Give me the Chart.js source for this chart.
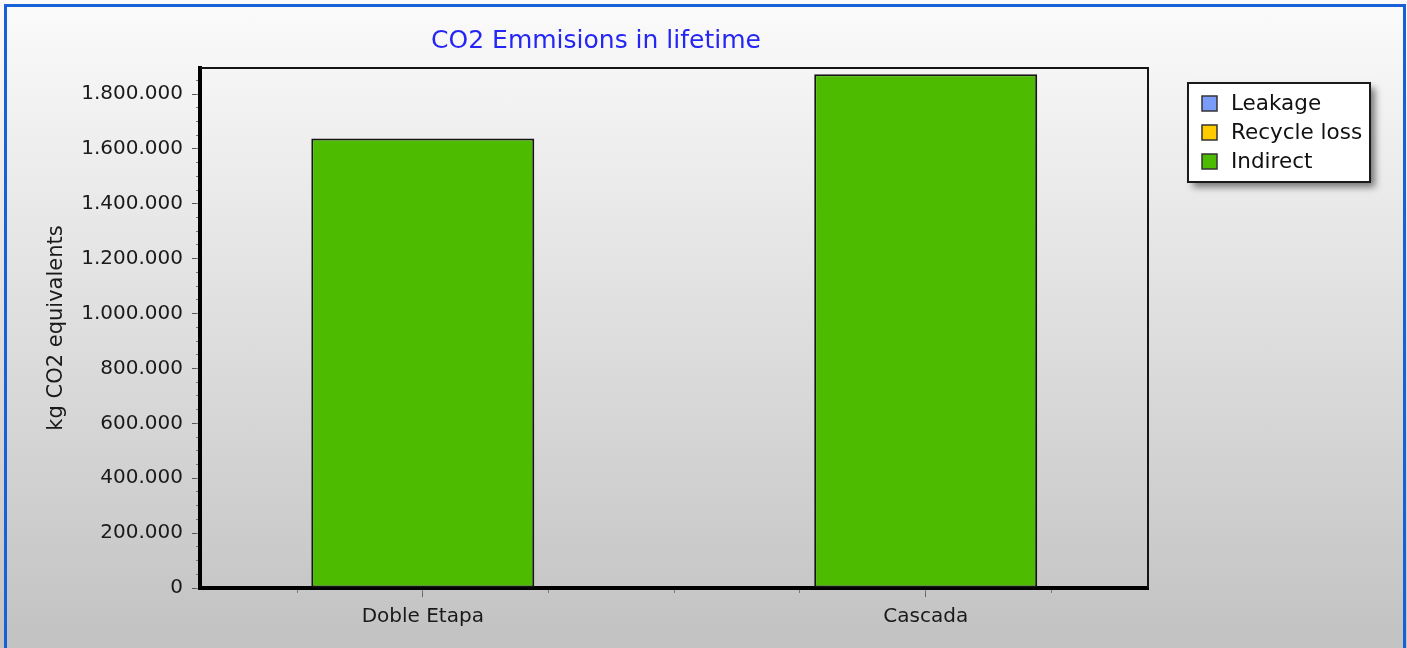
<!DOCTYPE html>
<html lang="en">
<head>
<meta charset="UTF-8">
<title>CO2 Emmisions in lifetime</title>
<script src="https://cdn.jsdelivr.net/npm/chart.js@4"></script>
<style>
    html, body { margin: 0; padding: 0; overflow: hidden; }
    #wrap { position: relative; width: 1407px; height: 648px; background: linear-gradient(#fbfbfb, #c2c2c2); }
    #frame { position: absolute; left: 4px; top: 4px; width: 1402px; height: 700px; border: 3px solid #1760d8; box-sizing: border-box; pointer-events: none; }
    canvas { position: absolute; left: 0; top: 0; }
</style>
</head>
<body>
<div id="wrap">
    <canvas id="co2Chart" width="1407" height="648"></canvas>
    <div id="frame"></div>
</div>
<script>
    // values
    const categories = ['Doble Etapa', 'Cascada'];
    const leakage = [0, 0];
    const recycleLoss = [0, 0];
    const indirect = [1638000, 1872000];

    // axis range and tick marks
    const yMax = 1895000;
    const yTicks = [0, 200000, 400000, 600000, 800000, 1000000, 1200000, 1400000, 1600000, 1800000];
    const yMinorStep = 50000;
    const xRange = [-0.443, 1.442];
    const xMinorTicks = [-0.25, 0, 0.25, 0.5, 0.75, 1, 1.25];

    const seriesColors = { leakage: '#789cf8', recycle: '#ffcc00', indirect: '#4dbb00' };

    Chart.defaults.font.family = 'DejaVu Sans';
    Chart.defaults.color = '#1a1a1a';

    // 1800000 -> 1.800.000
    function dotted(v) {
        return String(Math.round(v)).replace(/\B(?=(\d{3})+(?!\d))/g, '.');
    }

    const toPoints = values => values.map((v, i) => ({ x: i, y: v }));
    const setTicks = values => scale => { scale.ticks = values.map(v => ({ value: v })); };

    const yMinorTicks = [];
    for (let v = 0; v < yMax; v += yMinorStep) yMinorTicks.push(v);

    // thin top and right edge of the plot box
    const plotFrame = {
        id: 'plotFrame',
        afterDraw(chart) {
            const { ctx, chartArea: a } = chart;
            ctx.save();
            ctx.strokeStyle = '#151515';
            ctx.lineWidth = 2;
            ctx.beginPath();
            ctx.moveTo(a.left, a.top);
            ctx.lineTo(a.right, a.top);
            ctx.lineTo(a.right, a.bottom);
            ctx.stroke();
            ctx.restore();
        }
    };

    // boxed legend with a drop shadow, right of the plot
    const boxLegend = {
        id: 'boxLegend',
        afterDraw(chart) {
            const { ctx, chartArea: a } = chart;
            const x = a.right + 40, y = a.top + 15, w = 182, h = 99;
            ctx.save();
            ctx.shadowColor = 'rgba(0,0,0,0.5)';
            ctx.shadowBlur = 7;
            ctx.shadowOffsetX = 5;
            ctx.shadowOffsetY = 5;
            ctx.fillStyle = '#ffffff';
            ctx.fillRect(x, y, w, h);
            ctx.restore();

            ctx.save();
            ctx.strokeStyle = '#1a1a1a';
            ctx.lineWidth = 2;
            ctx.strokeRect(x, y, w, h);
            ctx.font = '21.5px "DejaVu Sans"';
            ctx.textBaseline = 'middle';
            chart.data.datasets.forEach((ds, i) => {
                const cy = y + 20 + i * 29;
                ctx.fillStyle = ds.backgroundColor;
                ctx.fillRect(x + 14, cy - 7, 15, 15);
                ctx.strokeStyle = '#333';
                ctx.lineWidth = 1.5;
                ctx.strokeRect(x + 14, cy - 7, 15, 15);
                ctx.fillStyle = '#111';
                ctx.fillText(ds.label, x + 43, cy + 1);
            });
            ctx.restore();
        }
    };

    const barStyle = { borderColor: '#151515', borderWidth: 2, borderSkipped: false, barPercentage: 0.4434, categoryPercentage: 1 };

    new Chart(document.getElementById('co2Chart'), {
        type: 'bar',
        data: {
            datasets: [
                { label: 'Leakage', data: toPoints(leakage), backgroundColor: seriesColors.leakage, ...barStyle, borderWidth: 0 },
                { label: 'Recycle loss', data: toPoints(recycleLoss), backgroundColor: seriesColors.recycle, ...barStyle, borderWidth: 0 },
                { label: 'Indirect', data: toPoints(indirect), backgroundColor: seriesColors.indirect, ...barStyle }
            ]
        },
        options: {
            responsive: false,
            animation: false,
            devicePixelRatio: 1,
            layout: { padding: { left: 44, right: 259, top: 0, bottom: 0 } },
            plugins: {
                legend: { display: false },
                tooltip: { enabled: false },
                title: {
                    display: true,
                    text: 'CO2 Emmisions in lifetime',
                    color: '#2626f4',
                    font: { size: 25, weight: 'normal' },
                    padding: { top: 26, bottom: 12 }
                }
            },
            scales: {
                x: {
                    type: 'linear',
                    stacked: true,
                    offset: false,
                    min: xRange[0],
                    max: xRange[1],
                    z: 1,
                    weight: 1,
                    afterBuildTicks: setTicks(categories.map((c, i) => i)),
                    afterFit(scale) { scale.height = 60; },
                    border: { display: true, color: '#000', width: 4 },
                    grid: { offset: false, drawOnChartArea: false, tickLength: 9, tickColor: '#666', tickWidth: 1 },
                    ticks: {
                        autoSkip: false,
                        maxRotation: 0,
                        padding: 8,
                        font: { size: 20 },
                        callback: v => categories[Math.round(v)] ?? ''
                    }
                },
                xMinor: {
                    type: 'linear',
                    position: 'bottom',
                    offset: false,
                    min: xRange[0],
                    max: xRange[1],
                    weight: 0,
                    afterBuildTicks: setTicks(xMinorTicks),
                    afterFit(scale) { scale.height = 0; },
                    border: { display: false },
                    grid: { offset: false, drawOnChartArea: false, tickLength: 5, tickColor: '#777' },
                    ticks: { display: false, autoSkip: false }
                },
                y: {
                    stacked: true,
                    min: 0,
                    max: yMax,
                    z: 1,
                    weight: 1,
                    afterBuildTicks: setTicks(yTicks),
                    afterFit(scale) { scale.width = 156; },
                    border: { display: true, color: '#000', width: 4 },
                    grid: { drawOnChartArea: false, tickLength: 8, tickColor: '#555' },
                    title: {
                        display: true,
                        text: 'kg CO2 equivalents',
                        color: '#1a1a1a',
                        font: { size: 21 },
                        padding: 0
                    },
                    ticks: {
                        autoSkip: false,
                        padding: 9,
                        font: { size: 20 },
                        callback: v => dotted(v)
                    }
                },
                yMinor: {
                    position: 'left',
                    min: 0,
                    max: yMax,
                    weight: 0,
                    afterBuildTicks: setTicks(yMinorTicks),
                    afterFit(scale) { scale.width = 0; },
                    border: { display: false },
                    grid: { drawOnChartArea: false, tickLength: 4, tickColor: '#777' },
                    ticks: { display: false, autoSkip: false }
                }
            }
        },
        plugins: [plotFrame, boxLegend]
    });
</script>
</body>
</html>
